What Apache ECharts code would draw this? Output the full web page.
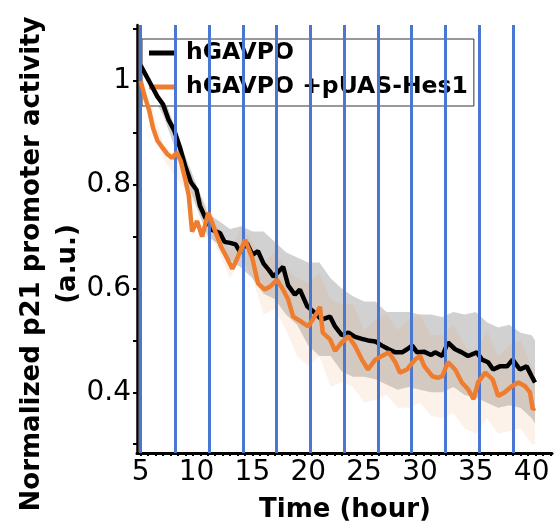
<!DOCTYPE html>
<html>
<head>
<meta charset="utf-8">
<script src="https://cdn.jsdelivr.net/npm/echarts@6/dist/echarts.min.js"></script>
<style>
html,body{margin:0;padding:0;background:#fff}
#chart{width:554px;height:526px}
</style>
</head>
<body>
<div id="chart"></div>
<script>
// light pulses (hour)
var pulseTimes = [5, 8.05, 11.1, 14.15, 17.15, 20.2, 23.2, 26.25, 29.25, 32.3, 35.3, 38.35];
var xLabels = [5, 10, 15, 20, 25, 30, 35, 40];
var yLabels = [0.4, 0.6, 0.8, 1];
var yTicks = [0.3, 0.4, 0.5, 0.6, 0.7, 0.8, 0.9, 1.0, 1.1];

// hGAVPO mean
var blackT = [5.0, 5.5, 6.0, 6.5, 7.0, 7.5, 8.0, 8.5, 9.0, 9.5, 10.0, 10.3, 10.75, 11.4, 12.1, 12.5, 13.0, 13.5, 13.9, 14.5,
  15.0, 15.5, 16.0, 16.5, 16.9, 17.3, 17.75, 18.2, 18.8, 19.25, 19.9, 20.45, 21.2, 21.95, 22.4, 23.0, 23.6, 24.2, 24.8, 25.35,
  26.0, 26.6, 27.2, 27.8, 28.4, 28.85, 29.3, 29.75, 30.4, 31.0, 31.35, 32.0, 32.5, 33.15, 33.75, 34.3, 35.1, 35.55, 36.1, 36.55,
  37.15, 37.8, 38.3, 38.95, 39.55, 40.0, 40.3];
var blackV = [1.03, 1.01, 0.99, 0.97, 0.955, 0.925, 0.905, 0.873, 0.835, 0.805, 0.79, 0.76, 0.738, 0.713, 0.707, 0.69, 0.688, 0.685, 0.67, 0.688,
  0.665, 0.672, 0.648, 0.635, 0.623, 0.632, 0.642, 0.606, 0.588, 0.598, 0.566, 0.556, 0.54, 0.546, 0.527, 0.51, 0.515, 0.507, 0.503, 0.5,
  0.498, 0.49, 0.483, 0.477, 0.477, 0.483, 0.49, 0.477, 0.478, 0.472, 0.477, 0.47, 0.496, 0.483, 0.477, 0.47, 0.477, 0.463, 0.458, 0.444,
  0.45, 0.45, 0.463, 0.444, 0.45, 0.431, 0.419];

// hGAVPO +pUAS-Hes1 mean
var orangeT = [5.0, 5.3, 5.75, 6.1, 6.5, 6.9, 7.35, 7.8, 8.25, 8.6, 9.0, 9.3, 9.6, 10.05, 10.5, 11.05, 11.6, 12.2, 12.7, 13.2,
  13.6, 14.35, 15.0, 15.5, 16.1, 16.6, 17.2, 17.75, 18.2, 18.65, 19.45, 20.0, 20.8, 21.05, 21.3, 21.95, 22.4, 23.0, 23.6, 24.2,
  24.8, 25.35, 26.0, 26.6, 27.2, 27.8, 28.2, 28.85, 29.55, 30.0, 30.4, 31.1, 31.6, 32.0, 32.5, 33.15, 33.75, 34.3, 34.8, 35.2,
  35.85, 36.5, 37.0, 37.6, 38.25, 38.8, 39.4, 39.85, 40.1, 40.3];
var orangeV = [1.0, 0.975, 0.944, 0.91, 0.885, 0.873, 0.86, 0.852, 0.862, 0.845, 0.81, 0.78, 0.71, 0.73, 0.7, 0.746, 0.715, 0.68, 0.66, 0.638,
  0.656, 0.694, 0.658, 0.61, 0.598, 0.604, 0.617, 0.598, 0.579, 0.546, 0.535, 0.527, 0.554, 0.565, 0.515, 0.502, 0.48, 0.496, 0.508, 0.489,
  0.463, 0.444, 0.463, 0.47, 0.477, 0.458, 0.438, 0.444, 0.463, 0.47, 0.45, 0.431, 0.428, 0.431, 0.458, 0.444, 0.419, 0.406, 0.387, 0.419,
  0.438, 0.425, 0.393, 0.4, 0.412, 0.419, 0.412, 0.4, 0.367, 0.37];

// spread bands
var greyBandT = [5, 7, 9, 11, 12, 13, 14, 15, 16, 17, 18, 19, 20, 21, 22, 23, 24, 25, 26, 27, 28, 29, 30, 31, 32, 33, 34, 35, 36, 37, 38, 39, 40, 40.3];
var greyLow  = [1.01, 0.935, 0.815, 0.70, 0.685, 0.655, 0.64, 0.62, 0.59, 0.58, 0.55, 0.53, 0.49, 0.47, 0.47, 0.44, 0.43, 0.43, 0.425, 0.415, 0.405, 0.41, 0.405, 0.40, 0.40, 0.41, 0.395, 0.39, 0.38, 0.37, 0.375, 0.37, 0.35, 0.34];
var greyHigh = [1.06, 0.975, 0.855, 0.745, 0.73, 0.715, 0.72, 0.71, 0.71, 0.69, 0.67, 0.66, 0.65, 0.65, 0.62, 0.60, 0.585, 0.575, 0.575, 0.555, 0.555, 0.555, 0.55, 0.55, 0.545, 0.555, 0.55, 0.555, 0.535, 0.525, 0.53, 0.515, 0.51, 0.50];

var orangeBandT = [5, 7, 9, 11, 13, 14, 15, 16, 17, 18, 19, 20, 21, 22, 23, 24, 25, 26, 27, 28, 29, 30, 31, 32, 33, 34, 35, 36, 37, 38, 39, 40, 40.3];
var orangeLow  = [0.98, 0.85, 0.79, 0.72, 0.62, 0.66, 0.62, 0.55, 0.56, 0.52, 0.47, 0.45, 0.47, 0.41, 0.42, 0.41, 0.38, 0.385, 0.395, 0.37, 0.37, 0.38, 0.355, 0.35, 0.36, 0.33, 0.32, 0.35, 0.32, 0.325, 0.33, 0.30, 0.30];
var orangeHigh = [1.02, 0.88, 0.83, 0.76, 0.67, 0.72, 0.69, 0.65, 0.67, 0.64, 0.62, 0.61, 0.63, 0.58, 0.57, 0.57, 0.52, 0.54, 0.55, 0.52, 0.54, 0.55, 0.51, 0.51, 0.53, 0.49, 0.47, 0.52, 0.47, 0.49, 0.50, 0.45, 0.44];

function pairs(xs, ys) {
  var out = [];
  for (var i = 0; i < xs.length; i++) out.push([xs[i], ys[i]]);
  return out;
}

// shaded spread drawn as one polygon through the axis scales
function bandSeries(name, ts, lo, hi, color, z) {
  var rows = [];
  for (var i = 0; i < ts.length; i++) rows.push([ts[i], lo[i], hi[i]]);
  return {
    name: name,
    type: 'custom',
    z: z,
    silent: true,
    data: rows,
    encode: { x: 0, y: [1, 2] },
    renderItem: function (params, api) {
      if (params.dataIndex !== 0) return;
      var top = [], bottom = [];
      for (var k = 0; k < rows.length; k++) {
        top.push(api.coord([rows[k][0], rows[k][2]]));
        bottom.push(api.coord([rows[k][0], rows[k][1]]));
      }
      return {
        type: 'polygon',
        shape: { points: top.concat(bottom.reverse()) },
        style: { fill: color }
      };
    }
  };
}

var xTicks = [];
for (var t = 5; t < 41.8; t += 2 / 3) xTicks.push(t);

var FONT = 'DejaVu Sans';
var myChart = echarts.init(document.getElementById('chart'));

var option = {
  animation: false,
  grid: { left: 137, right: 2, top: 25, bottom: 73 },
  legend: {
    orient: 'vertical',
    left: 142,
    top: 39,
    backgroundColor: '#fff',
    borderColor: '#333',
    borderWidth: 1,
    padding: [0, 6, 5, 7],
    itemWidth: 27,
    itemHeight: 5,
    itemGap: 6,
    textStyle: {
      fontFamily: FONT,
      fontWeight: 'bold',
      fontSize: 23.5,
      lineHeight: 28,
      color: '#000',
      padding: [0, 0, 0, 5]
    },
    data: [
      { name: 'hGAVPO', icon: 'rect' },
      { name: 'hGAVPO +pUAS-Hes1', icon: 'rect' }
    ]
  },
  xAxis: {
    type: 'value',
    min: 4.67,
    max: 41.82,
    axisLine: { lineStyle: { color: '#000', width: 3 } },
    axisTick: { show: true, length: 3, customValues: xTicks, lineStyle: { color: '#000', width: 2 } },
    axisLabel: { customValues: xLabels, margin: 6, fontFamily: FONT, fontSize: 28, color: '#000' },
    splitLine: { show: false }
  },
  yAxis: {
    type: 'value',
    min: 0.283,
    max: 1.108,
    axisLine: { show: true, lineStyle: { color: '#000', width: 2.5 } },
    axisTick: { show: true, length: 4, customValues: yTicks, lineStyle: { color: '#000', width: 2 } },
    axisLabel: {
      customValues: yLabels, margin: 6, fontFamily: FONT, fontSize: 28, color: '#000',
      formatter: function (v) { return String(v); }
    },
    splitLine: { show: false }
  },
  graphic: [
    {
      type: 'text',
      x: 50, y: 264,
      rotation: Math.PI / 2,
      style: {
        text: 'Normalized p21 promoter activity\n(a.u.)',
        font: 'bold 26px "DejaVu Sans"',
        lineHeight: 36,
        fill: '#000',
        align: 'center',
        verticalAlign: 'middle'
      }
    },
    {
      type: 'text',
      x: 345, y: 510,
      style: {
        text: 'Time (hour)',
        font: 'bold 26px "DejaVu Sans"',
        fill: '#000',
        align: 'center',
        verticalAlign: 'middle'
      }
    }
  ],
  series: [
    {
      name: 'pulses',
      type: 'line',
      data: [],
      z: 1,
      silent: true,
      markLine: {
        silent: true,
        symbol: ['none', 'none'],
        label: { show: false },
        lineStyle: { color: '#4a78d0', width: 3, type: 'solid' },
        data: pulseTimes.map(function (p) { return { xAxis: p }; })
      }
    },
    bandSeries('greyBand', greyBandT, greyLow, greyHigh, 'rgba(128,128,128,0.36)', 2),
    bandSeries('orangeBand', orangeBandT, orangeLow, orangeHigh, 'rgba(237,125,49,0.1)', 3),
    {
      name: 'hGAVPO', type: 'line', z: 4,
      showSymbol: false, symbol: 'none',
      itemStyle: { color: '#000' },
      lineStyle: { color: '#000', width: 4.5 },
      data: pairs(blackT, blackV)
    },
    {
      name: 'hGAVPO +pUAS-Hes1', type: 'line', z: 5,
      showSymbol: false, symbol: 'none',
      itemStyle: { color: '#ee7d30' },
      lineStyle: { color: '#ee7d30', width: 4.5 },
      data: pairs(orangeT, orangeV)
    }
  ]
};

myChart.setOption(option);
</script>
</body>
</html>
